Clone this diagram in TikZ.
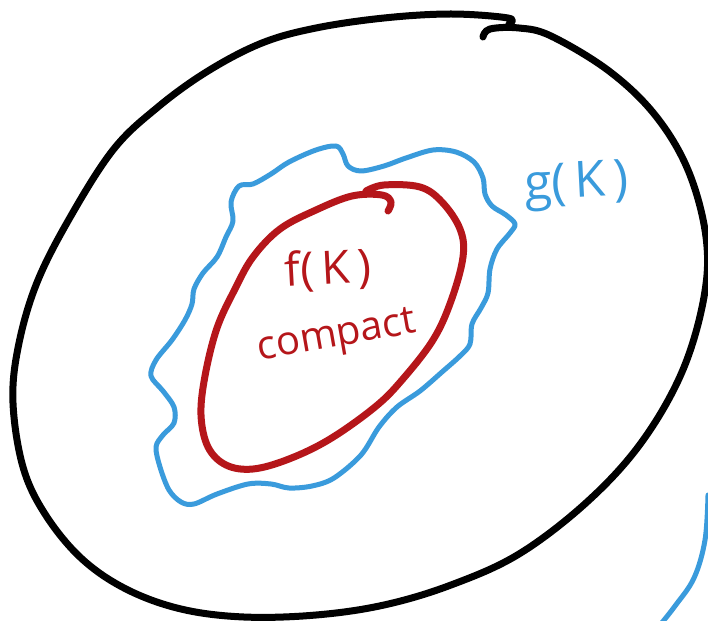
\documentclass[tikz,border=0pt]{standalone}
\usepackage{fontspec}
\setmainfont{Open Sans}
\definecolor{skblue}{HTML}{3A9BDC}
\definecolor{skred}{HTML}{B5161A}
\tikzset{
  outer/.style={draw=black, line width=7pt, line cap=round, line join=round},
  bluestroke/.style={draw=skblue, line width=5pt, line cap=round, line join=round},
  redstroke/.style={draw=skred, line width=7pt, line cap=round, line join=round},
  redlabel/.style={text=skred, font=\fontsize{40}{40}\selectfont, inner sep=0pt},
  bigred/.style={text=skred, font=\fontsize{46}{46}\selectfont, inner sep=0pt},
  bluelabel/.style={text=skblue, font=\fontsize{50}{50}\selectfont, inner sep=0pt}
}
\begin{document}
\begin{tikzpicture}[x=1pt,y=-1pt]
\useasboundingbox[fill=white] (0,0) rectangle (708,620);
% outer black closed curve
\draw[outer] plot[smooth, tension=0.6] coordinates {
(509,24) (508,18) (451,14) (384,18) (316,28) (262,43) (208,71) (158,107) (113,150)
(68,221) (36,285) (18,348) (13,403) (23,467) (45,514) (81,558) (126,589)
(181,609) (244,617) (316,615) (384,605) (451,585) (519,554) (587,502)
(641,443) (682,372) (704,297) (706,237) (688,170) (655,115) (609,71)
(551,36) (519,28) (490,29) (483,37)};
% blue wavy set g(K)
\draw[bluestroke] plot[smooth cycle, tension=0.55] coordinates {
(239,186) (253,184) (271,174) (289,162) (316,150) (336,146) (343,154)
(348,166) (361,171) (384,166) (406,158) (433,150) (456,152) (474,162)
(483,178) (485,194) (492,206) (506,215) (515,224) (510,233) (497,249)
(490,269) (488,293) (481,308) (472,324) (470,344) (460,356) (442,372)
(420,391) (397,407) (379,427) (361,455) (334,478) (312,486) (289,488)
(271,484) (248,484) (217,494) (194,504) (181,502) (169,490) (160,467)
(156,447) (163,435) (174,423) (174,407) (163,391) (151,376) (156,360)
(172,340) (185,320) (192,304) (194,289) (203,273) (217,257) (226,237)
(233,221) (231,202)};
% blue stroke bottom right
\draw[bluestroke] plot[smooth, tension=0.6] coordinates {
(708,495) (705,540) (694,578) (675,606) (660,625)};
% red closed curve f(K)
\draw[redstroke] plot[smooth, tension=0.6] coordinates {
(388,211) (391,202) (382,195) (352,196) (316,210) (280,229) (253,257)
(235,289) (217,328) (205,376) (201,415) (208,447) (226,465) (253,469)
(289,459) (330,439) (375,407) (402,380) (433,340) (451,301) (463,257)
(460,229) (442,202) (420,187) (384,185) (366,191)};
% labels
\node[bigred, rotate=3] (fk) at (328,270) {f(\,K\,)};
\node[redlabel, rotate=10] (cp) at (337,338) {compact};
\node[bluelabel, rotate=3] (gk) at (577,186) {g(\,K\,)};
\end{tikzpicture}
\end{document}
